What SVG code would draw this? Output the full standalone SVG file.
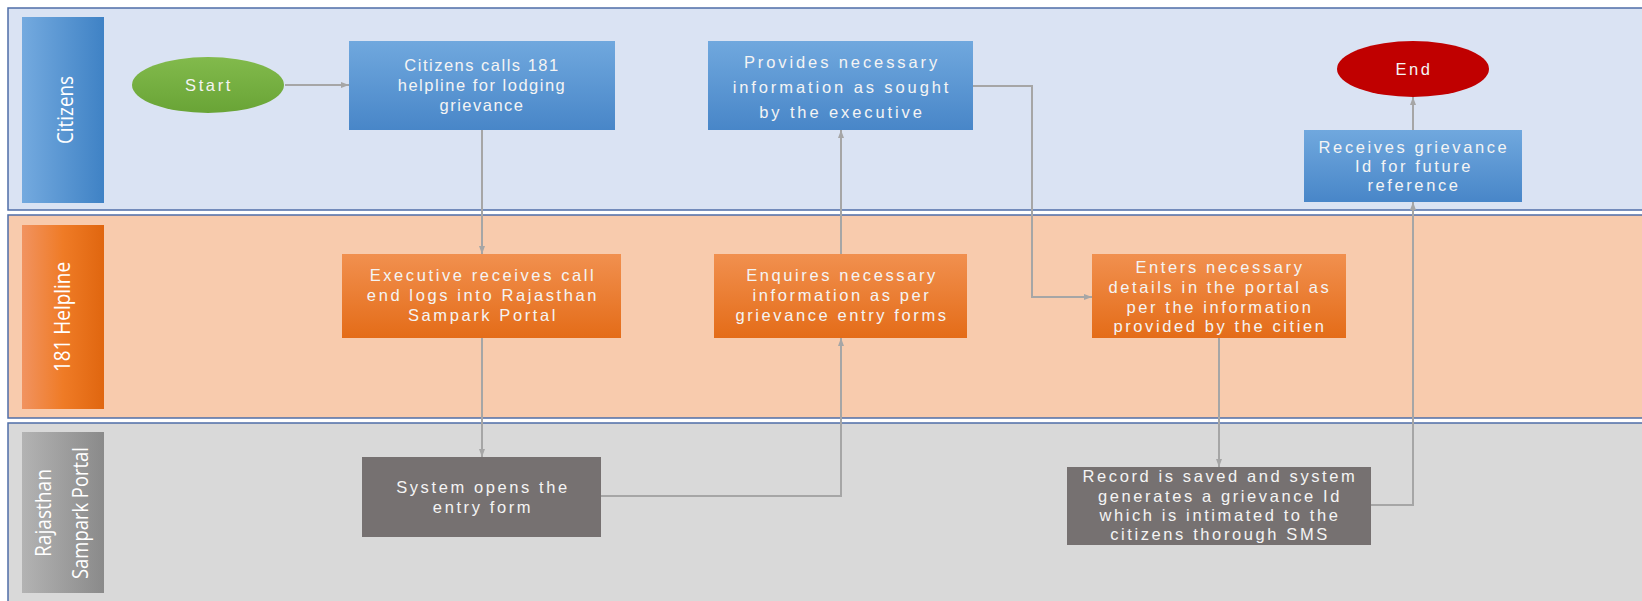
<svg xmlns="http://www.w3.org/2000/svg" width="1642" height="601" viewBox="0 0 1642 601">
<defs>
<linearGradient id="blueV" x1="0" y1="0" x2="0" y2="1"><stop offset="0" stop-color="#70a8de"/><stop offset="1" stop-color="#4886c8"/></linearGradient>
<linearGradient id="orangeV" x1="0" y1="0" x2="0" y2="1"><stop offset="0" stop-color="#f1904f"/><stop offset="1" stop-color="#e46c18"/></linearGradient>
<linearGradient id="greenV" x1="0" y1="0" x2="0" y2="1"><stop offset="0" stop-color="#82ba4c"/><stop offset="1" stop-color="#69a436"/></linearGradient>
<linearGradient id="blueH" x1="0" y1="0" x2="1" y2="0"><stop offset="0" stop-color="#74aadf"/><stop offset="1" stop-color="#3f82c5"/></linearGradient>
<linearGradient id="orangeH" x1="0" y1="0" x2="1" y2="0"><stop offset="0" stop-color="#f19360"/><stop offset="0.5" stop-color="#ef7b26"/><stop offset="1" stop-color="#e0660f"/></linearGradient>
<linearGradient id="grayH" x1="0" y1="0" x2="1" y2="0"><stop offset="0" stop-color="#b3b3b3"/><stop offset="1" stop-color="#8a8a8a"/></linearGradient>
<marker id="arr" markerUnits="userSpaceOnUse" markerWidth="8" markerHeight="6" refX="8" refY="3" orient="auto"><path d="M0,0 L8,3 L0,6 z" fill="#a6a6a6"/></marker>
</defs>
<style>
.lane{stroke:#4f6ea8;stroke-width:1.5}
.hdr{font-family:"Open Sans","Liberation Sans",sans-serif;font-size:22px;font-weight:400;fill:#ffffff;text-anchor:middle}
.t{font-family:"Liberation Sans",Arial,sans-serif;font-size:16.5px;fill:#f4f4f4;text-anchor:middle;letter-spacing:2.6px}
.tn{letter-spacing:1.5px}
.tw{letter-spacing:2.9px}
.blue{fill:url(#blueV)}
.orange{fill:url(#orangeV)}
.gray{fill:#767171}
.conn{fill:none;stroke:#a6a6a6;stroke-width:2;marker-end:url(#arr)}
</style>
<rect width="1642" height="601" fill="#ffffff"/>
<g id="lane-citizens">
<rect class="lane" x="8" y="8" width="1700" height="202" fill="#dae3f3"/>
<rect x="22" y="17" width="82" height="186" fill="url(#blueH)"/>
<text class="hdr" transform="translate(73,110) rotate(-90)" textLength="68" lengthAdjust="spacingAndGlyphs">Citizens</text>
</g>
<g id="lane-helpline">
<rect class="lane" x="8" y="215" width="1700" height="203" fill="#f8cbad"/>
<rect x="22" y="225" width="82" height="184" fill="url(#orangeH)"/>
<text class="hdr" transform="translate(70,317) rotate(-90)" textLength="110" lengthAdjust="spacingAndGlyphs">181 Helpline</text>
</g>
<g id="lane-portal">
<rect class="lane" x="8" y="423" width="1700" height="190" fill="#d9d9d9"/>
<rect x="22" y="432" width="82" height="161" fill="url(#grayH)"/>
<text class="hdr" transform="translate(51,513) rotate(-90)" textLength="88" lengthAdjust="spacingAndGlyphs">Rajasthan</text>
<text class="hdr" transform="translate(88,513) rotate(-90)" textLength="132" lengthAdjust="spacingAndGlyphs">Sampark Portal</text>
</g>
<g id="connectors">
<path class="conn" d="M285,85 H349"/>
<path class="conn" d="M482,130 V254"/>
<path class="conn" d="M482,338 V457"/>
<path class="conn" d="M601,496 H841 V338"/>
<path class="conn" d="M841,254 V130"/>
<path class="conn" d="M973,86 H1032 V297 H1092"/>
<path class="conn" d="M1219,338 V467"/>
<path class="conn" d="M1371,505 H1413 V202"/>
<path class="conn" d="M1413,130 V97"/>
</g>
<g id="start">
<ellipse cx="208" cy="85" rx="76" ry="28" fill="url(#greenV)"/>
<text class="t" x="209" y="91">Start</text>
</g>
<g id="citizens-calls">
<rect class="blue" x="349" y="41" width="266" height="89"/>
<text class="t tn" x="482" y="71">Citizens calls 181</text>
<text class="t tn" x="482" y="91">helpline for lodging</text>
<text class="t tn" x="482" y="111">grievance</text>
</g>
<g id="provides-info">
<rect class="blue" x="708" y="41" width="265" height="89"/>
<text class="t tw" x="842" y="68">Provides necessary</text>
<text class="t tw" x="842" y="93">information as sought</text>
<text class="t tw" x="842" y="118">by the executive</text>
</g>
<g id="end">
<ellipse cx="1413" cy="69" rx="76" ry="28" fill="#c00000"/>
<text class="t" x="1414" y="75">End</text>
</g>
<g id="receives-id">
<rect class="blue" x="1304" y="130" width="218" height="72"/>
<text class="t" x="1414" y="153">Receives grievance</text>
<text class="t" x="1414" y="172">Id for future</text>
<text class="t" x="1414" y="191">reference</text>
</g>
<g id="executive-receives">
<rect class="orange" x="342" y="254" width="279" height="84"/>
<text class="t" x="483" y="281">Executive receives call</text>
<text class="t" x="483" y="301">end logs into Rajasthan</text>
<text class="t" x="483" y="321">Sampark Portal</text>
</g>
<g id="enquires-info">
<rect class="orange" x="714" y="254" width="253" height="84"/>
<text class="t" x="842" y="281">Enquires necessary</text>
<text class="t" x="842" y="301">information as per</text>
<text class="t" x="842" y="321">grievance entry forms</text>
</g>
<g id="enters-details">
<rect class="orange" x="1092" y="254" width="254" height="84"/>
<text class="t" x="1220" y="273">Enters necessary</text>
<text class="t" x="1220" y="293">details in the portal as</text>
<text class="t" x="1220" y="313">per the information</text>
<text class="t" x="1220" y="332">provided by the citien</text>
</g>
<g id="system-opens">
<rect class="gray" x="362" y="457" width="239" height="80"/>
<text class="t" x="483" y="493">System opens the</text>
<text class="t" x="483" y="513">entry form</text>
</g>
<g id="record-saved">
<rect class="gray" x="1067" y="467" width="304" height="78"/>
<text class="t" x="1220" y="482">Record is saved and system</text>
<text class="t" x="1220" y="502">generates a grievance Id</text>
<text class="t" x="1220" y="521">which is intimated to the</text>
<text class="t" x="1220" y="540">citizens thorough SMS</text>
</g>
</svg>
